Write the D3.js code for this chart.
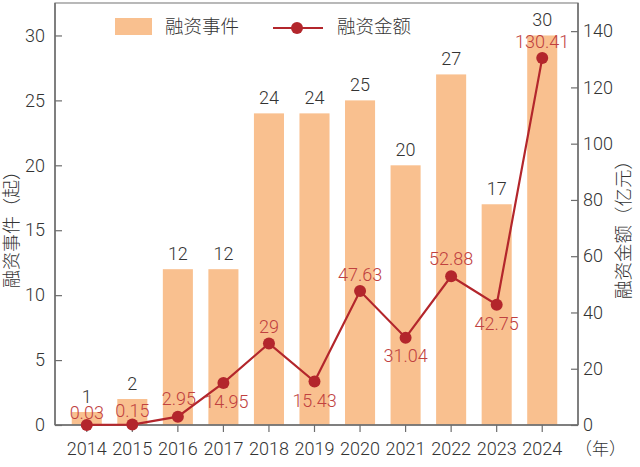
<!DOCTYPE html>
<html>
<head>
<meta charset="utf-8">
<script src="https://cdn.jsdelivr.net/npm/d3@7"></script>
<style>
  body { margin: 0; background: #fff; }
  text { font-family: "Roboto", "Noto Sans CJK SC", sans-serif; font-weight: 300; }
</style>
</head>
<body>
<svg id="chart"></svg>
<script>
// Data
const years = ['2014', '2015', '2016', '2017', '2018', '2019', '2020', '2021', '2022', '2023', '2024'];
const events = [1, 2, 12, 12, 24, 24, 25, 20, 27, 17, 30];
const amounts = [0.03, 0.15, 2.95, 14.95, 29, 15.43, 47.63, 31.04, 52.88, 42.75, 130.41];
const amountLabels = ['0.03', '0.15', '2.95', '14.95', '29', '15.43', '47.63', '31.04', '52.88', '42.75', '130.41'];
const leftTicks = [0, 5, 10, 15, 20, 25, 30];
const rightTicks = [0, 20, 40, 60, 80, 100, 120, 140];

const width = 640, height = 467;
const plot = { left: 55, right: 578, top: 3, bottom: 425 };

const barColor = '#f9c08f';
const lineColor = '#b3262c';
const labelRed = '#c0413f';
const axisColor = '#6d6d6d';
const textColor = '#333';

const svg = d3.select('#chart')
    .attr('width', width)
    .attr('height', height);

// Scales
const x = d3.scaleBand()
    .domain(years)
    .range([64, 565])
    .paddingInner(0.34)
    .paddingOuter(0.17);

const yLeft = d3.scaleLinear()
    .domain([0, 32.5])
    .range([plot.bottom, plot.top]);

const yRight = d3.scaleLinear()
    .domain([0, 150])
    .range([plot.bottom, plot.top]);

// Bars
svg.append('g')
    .selectAll('rect')
    .data(events)
    .join('rect')
    .attr('x', (d, i) => x(years[i]))
    .attr('y', d => yLeft(d))
    .attr('width', x.bandwidth())
    .attr('height', d => plot.bottom - yLeft(d))
    .attr('fill', barColor);

// Bar value labels
svg.append('g')
    .selectAll('text')
    .data(events)
    .join('text')
    .attr('x', (d, i) => x(years[i]) + x.bandwidth() / 2)
    .attr('y', d => yLeft(d) - 9)
    .attr('text-anchor', 'middle')
    .attr('font-size', 18)
    .attr('fill', textColor)
    .text(d => d);

// Frame
svg.append('rect')
    .attr('x', plot.left)
    .attr('y', plot.top)
    .attr('width', plot.right - plot.left)
    .attr('height', plot.bottom - plot.top)
    .attr('fill', 'none')
    .attr('stroke', '#8a8a8a')
    .attr('stroke-width', 1.2);

// Axes
const leftAxis = svg.append('g')
    .attr('transform', `translate(${plot.left},0)`)
    .call(d3.axisLeft(yLeft).tickValues(leftTicks).tickSizeInner(-7).tickSizeOuter(0).tickPadding(10));

const rightAxis = svg.append('g')
    .attr('transform', `translate(${plot.right},0)`)
    .call(d3.axisRight(yRight).tickValues(rightTicks).tickSizeInner(-7).tickSizeOuter(0).tickPadding(5));

const bottomAxis = svg.append('g')
    .attr('transform', `translate(0,${plot.bottom})`)
    .call(d3.axisBottom(x).tickSizeInner(7).tickSizeOuter(0).tickPadding(10));

[leftAxis, rightAxis, bottomAxis].forEach(a => {
    a.select('.domain').remove();
    a.selectAll('line').attr('stroke', axisColor).attr('stroke-width', 1.2);
    a.selectAll('text')
        .attr('font-size', 18)
        .attr('fill', textColor)
        .style('font-family', 'Roboto, sans-serif')
        .style('font-weight', 300);
});

// Axis lines drawn over the bars
svg.append('line')
    .attr('x1', plot.left).attr('x2', plot.right)
    .attr('y1', plot.bottom).attr('y2', plot.bottom)
    .attr('stroke', axisColor).attr('stroke-width', 1.5);
svg.append('line')
    .attr('x1', plot.left).attr('x2', plot.left)
    .attr('y1', plot.top).attr('y2', plot.bottom)
    .attr('stroke', axisColor).attr('stroke-width', 1.5);
svg.append('line')
    .attr('x1', plot.right).attr('x2', plot.right)
    .attr('y1', plot.top).attr('y2', plot.bottom)
    .attr('stroke', axisColor).attr('stroke-width', 1.5);

// Line series
const line = d3.line()
    .x((d, i) => x(years[i]) + x.bandwidth() / 2)
    .y(d => yRight(d));

svg.append('path')
    .datum(amounts)
    .attr('d', line)
    .attr('fill', 'none')
    .attr('stroke', lineColor)
    .attr('stroke-width', 2.2);

svg.append('g')
    .selectAll('circle')
    .data(amounts)
    .join('circle')
    .attr('cx', (d, i) => x(years[i]) + x.bandwidth() / 2)
    .attr('cy', d => yRight(d))
    .attr('r', 6)
    .attr('fill', lineColor);

// Amount labels: placement relative to each point
const labelOffset = {
    '2014': [0, -12], '2015': [0, -14], '2016': [1, -18], '2017': [3, 19],
    '2018': [0, -17], '2019': [0, 19], '2020': [0, -16], '2021': [0, 18],
    '2022': [0, -18], '2023': [0, 19], '2024': [0, -16]
};

svg.append('g')
    .selectAll('text')
    .data(amounts)
    .join('text')
    .attr('x', (d, i) => x(years[i]) + x.bandwidth() / 2 + labelOffset[years[i]][0])
    .attr('y', (d, i) => yRight(d) + labelOffset[years[i]][1])
    .attr('dy', '0.35em')
    .attr('text-anchor', 'middle')
    .attr('font-size', 18)
    .attr('fill', labelRed)
    .text((d, i) => amountLabels[i]);

// Axis titles (both read bottom to top)
svg.append('text')
    .attr('transform', 'translate(18,225) rotate(-90)')
    .attr('text-anchor', 'middle')
    .attr('font-size', 18)
    .attr('fill', textColor)
    .text('融资事件（起）');

svg.append('text')
    .attr('transform', 'translate(630,225) rotate(-90)')
    .attr('text-anchor', 'middle')
    .attr('font-size', 18.5)
    .attr('fill', textColor)
    .text('融资金额（亿元）');

svg.append('text')
    .attr('x', 575)
    .attr('y', 455)
    .attr('font-size', 17)
    .attr('fill', textColor)
    .text('（年）');

// Legend
const legend = svg.append('g');
legend.append('rect')
    .attr('x', 115).attr('y', 18)
    .attr('width', 37).attr('height', 17)
    .attr('fill', barColor);
legend.append('text')
    .attr('x', 165).attr('y', 27)
    .attr('dy', '0.35em')
    .attr('font-size', 18.5)
    .attr('fill', textColor)
    .text('融资事件');
legend.append('line')
    .attr('x1', 273).attr('x2', 323)
    .attr('y1', 28).attr('y2', 28)
    .attr('stroke', lineColor).attr('stroke-width', 2.2);
legend.append('circle')
    .attr('cx', 297).attr('cy', 28).attr('r', 6)
    .attr('fill', lineColor);
legend.append('text')
    .attr('x', 337).attr('y', 27)
    .attr('dy', '0.35em')
    .attr('font-size', 18.5)
    .attr('fill', textColor)
    .text('融资金额');
</script>
</body>
</html>
